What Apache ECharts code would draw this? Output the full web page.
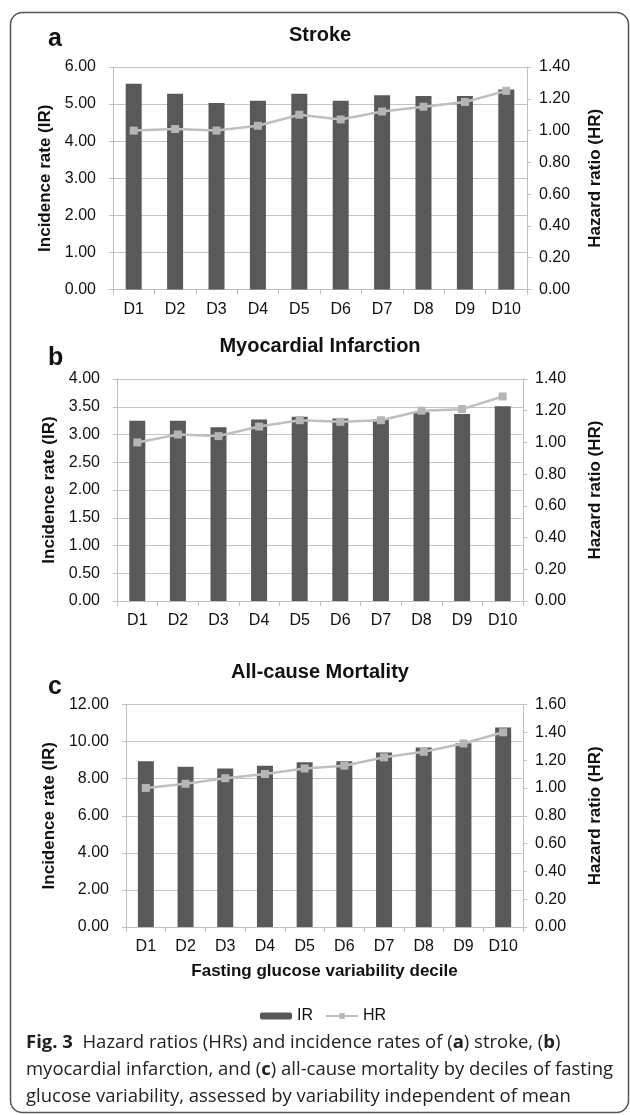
<!DOCTYPE html>
<html>
<head>
<meta charset="utf-8">
<script src="https://cdn.jsdelivr.net/npm/echarts@6/dist/echarts.min.js"></script>
<style>
html,body{margin:0;padding:0;background:#fff;}
#chart{width:630px;height:1115px;}
</style>
</head>
<body>
<div id="chart"></div>
<script>
// ---- data ----
const categories = ['D1','D2','D3','D4','D5','D6','D7','D8','D9','D10'];
const strokeIR = [5.55,5.28,5.03,5.09,5.28,5.09,5.24,5.22,5.22,5.39];
const strokeHR = [1.00,1.01,1.00,1.03,1.10,1.07,1.12,1.15,1.18,1.25];
const miIR = [3.25,3.25,3.13,3.27,3.32,3.29,3.27,3.40,3.37,3.51];
const miHR = [1.00,1.05,1.04,1.10,1.14,1.13,1.14,1.20,1.21,1.29];
const mortIR = [8.94,8.64,8.55,8.69,8.89,8.94,9.41,9.68,9.91,10.76];
const mortHR = [1.00,1.03,1.07,1.10,1.14,1.16,1.22,1.26,1.32,1.40];
const panelTitles = ['Stroke','Myocardial Infarction','All-cause Mortality'];
const panelLetters = ['a','b','c'];
const leftAxisName = 'Incidence rate (IR)';
const rightAxisName = 'Hazard ratio (HR)';
const xAxisName = 'Fasting glucose variability decile';
const captionLines = [
  '{b|Fig. 3}  Hazard ratios (HRs) and incidence rates of ({b|a}) stroke, ({b|b})',
  'myocardial infarction, and ({b|c}) all-cause mortality by deciles of fasting',
  'glucose variability, assessed by variability independent of mean'
];

// ---- styles / layout ----
const FONT = "'Liberation Sans', Arial, sans-serif";
const CAP_FONT = "'Open Sans', 'Noto Sans', sans-serif";
const CAP_SIZE = 18;
const textColor = '#111';
const axisGray = '#bfbfbf';
const gridGray = '#c4c4c4';
const barColor = '#595959';

const grids = [
  {left:113, top:67, width:414, height:222.5},
  {left:117, top:379, width:406, height:222},
  {left:126, top:704.5, width:397, height:222.5}
];
const leftScales = [{max:6, interval:1},{max:4, interval:0.5},{max:12, interval:2}];
const rightScales = [{max:1.4, interval:0.2},{max:1.4, interval:0.2},{max:1.6, interval:0.2}];
const irData = [strokeIR, miIR, mortIR];
const hrData = [strokeHR, miHR, mortHR];
const titleY = [35, 346.5, 672.5];
const letterY = [39, 358, 687];
const leftNameCenterX = 49;
const rightNameCenterX = 595;

const fmt2 = v => v.toFixed(2);

const xAxes = [], yAxes = [], series = [];
grids.forEach((g, i) => {
  xAxes.push({
    type:'category', gridIndex:i, data:categories,
    axisLine:{show:true, lineStyle:{color:axisGray, width:1}},
    axisTick:{show:true, length:5, lineStyle:{color:axisGray}},
    axisLabel:{color:textColor, fontSize:16, fontFamily:FONT, margin:12, interval:0},
    splitLine:{show:false},
    name: i === 2 ? xAxisName : '',
    nameLocation:'middle', nameGap:36,
    nameTextStyle:{color:textColor, fontSize:17, fontWeight:'bold', fontFamily:FONT}
  });
  yAxes.push({
    type:'value', gridIndex:i, min:0, max:leftScales[i].max, interval:leftScales[i].interval,
    position:'left',
    axisLine:{show:true, lineStyle:{color:axisGray}},
    axisTick:{show:true, length:4, lineStyle:{color:axisGray}},
    axisLabel:{color:textColor, fontSize:16, fontFamily:FONT, margin:17, formatter:fmt2},
    splitLine:{show:true, lineStyle:{color:gridGray, width:1}},
    name:leftAxisName, nameLocation:'middle', nameRotate:90,
    nameGap: g.left - leftNameCenterX - 8.5,
    nameTextStyle:{color:textColor, fontSize:17, fontWeight:'bold', fontFamily:FONT}
  });
  yAxes.push({
    type:'value', gridIndex:i, min:0, max:rightScales[i].max, interval:rightScales[i].interval,
    position:'right',
    axisLine:{show:true, lineStyle:{color:axisGray}},
    axisTick:{show:true, length:4, lineStyle:{color:axisGray}},
    axisLabel:{color:textColor, fontSize:16, fontFamily:FONT, margin:12, formatter:fmt2},
    splitLine:{show:false},
    name:rightAxisName, nameLocation:'middle', nameRotate:90,
    nameGap: rightNameCenterX - (g.left + g.width) - 8.5,
    nameTextStyle:{color:textColor, fontSize:17, fontWeight:'bold', fontFamily:FONT}
  });
  series.push({
    name:'IR', type:'bar', xAxisIndex:i, yAxisIndex:i*2, data:irData[i],
    barWidth:16, itemStyle:{color:barColor}, z:2
  });
  series.push({
    name:'HR', type:'line', xAxisIndex:i, yAxisIndex:i*2+1, data:hrData[i],
    symbol:'rect', symbolSize:8, showSymbol:true,
    lineStyle:{color:axisGray, width:2.5},
    itemStyle:{color:'#b5b5b5'}, z:3
  });
});

// caption scaling (condensed look)
const ctx = document.createElement('canvas').getContext('2d');
function measureLine(line){
  let w = 0;
  const re = /\{b\|([^}]*)\}/g;
  let last = 0, m;
  while ((m = re.exec(line))){
    ctx.font = CAP_SIZE + 'px ' + CAP_FONT;
    w += ctx.measureText(line.slice(last, m.index)).width;
    ctx.font = 'bold ' + CAP_SIZE + 'px ' + CAP_FONT;
    w += ctx.measureText(m[1]).width;
    last = re.lastIndex;
  }
  ctx.font = CAP_SIZE + 'px ' + CAP_FONT;
  w += ctx.measureText(line.slice(last)).width;
  return w;
}
const capLeft = 26, capRight = 613;
const capScale = (capRight - capLeft) / measureLine(captionLines[1]);
const captionY = [1043, 1070, 1097];

const graphic = [
  {type:'rect', shape:{x:10.5, y:12.5, width:618, height:1100, r:12},
   style:{fill:'none', stroke:'#555', lineWidth:1.5}, silent:true}
];
panelTitles.forEach((t, i) => {
  graphic.push({type:'text', x:320, y:titleY[i],
    style:{text:t, fontSize:20, fontWeight:'bold', fontFamily:FONT, fill:textColor,
      align:'center', verticalAlign:'middle', textAlign:'center', textVerticalAlign:'middle'}});
  graphic.push({type:'text', x:48, y:letterY[i],
    style:{text:panelLetters[i], fontSize:25, fontWeight:'bold', fontFamily:FONT, fill:textColor,
      align:'left', verticalAlign:'middle', textAlign:'left', textVerticalAlign:'middle'}});
});
captionLines.forEach((l, i) => {
  graphic.push({type:'text', x:capLeft, y:captionY[i], scaleX:capScale,
    style:{text:l, fontSize:CAP_SIZE, fontFamily:CAP_FONT, fill:'#222',
      align:'left', verticalAlign:'middle', textAlign:'left', textVerticalAlign:'middle',
      rich:{b:{fontSize:CAP_SIZE, fontFamily:CAP_FONT, fontWeight:'bold', fill:'#222'}}}});
});

const chart = echarts.init(document.getElementById('chart'), null, {renderer:'canvas'});
chart.setOption({
  animation:false,
  backgroundColor:'#fff',
  grid: grids.map(g => Object.assign({outerBoundsMode:'none', containLabel:false}, g)),
  xAxis:xAxes,
  yAxis:yAxes,
  series:series,
  legend:{
    data:['IR','HR'], left:260, top:1008, itemWidth:32, itemHeight:7, itemGap:12,
    textStyle:{color:textColor, fontSize:16, fontFamily:FONT}, padding:0,
    selectedMode:false
  },
  graphic:graphic
});
</script>
</body>
</html>
